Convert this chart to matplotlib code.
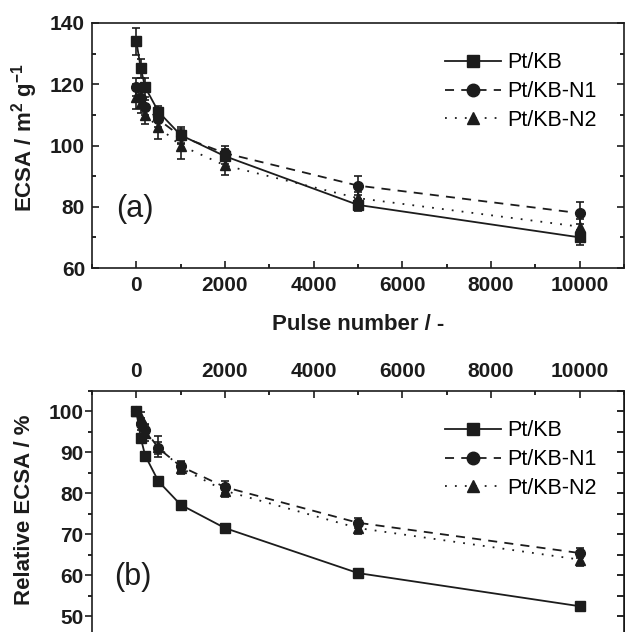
import matplotlib
matplotlib.use("Agg")
import matplotlib.pyplot as plt
from matplotlib.lines import Line2D
from matplotlib.ticker import MultipleLocator

# -----------------------------
# Data
# -----------------------------
pulses = [0, 100, 200, 500, 1000, 2000, 5000, 10000]
labels = ["Pt/KB", "Pt/KB-N1", "Pt/KB-N2"]

# (a) absolute ECSA, m2/g
ecsa_kb = [134, 125.2, 119.0, 111.0, 103.4, 96.5, 80.6, 70.0]
ecsa_n1 = [119.2, 115.5, 112.5, 108.5, 103.0, 97.5, 86.9, 77.9]
ecsa_n2 = [116.0, 114.0, 110.0, 106.0, 100.0, 93.5, 82.8, 73.5]
err_kb = [4.5, 3.0, 3.0, 2.0, 2.5, 2.5, 2.0, 2.5]
err_n1 = [3.0, 3.0, 2.5, 2.5, 2.5, 2.5, 3.0, 3.5]
err_n2 = [4.0, 3.5, 3.0, 4.0, 4.5, 3.0, 2.0, 2.5]

# (b) relative ECSA, %
rel_kb = [100, 93.5, 89.2, 82.9, 77.2, 71.5, 60.5, 52.4]
rel_n1 = [100, 97.0, 95.5, 91.0, 86.6, 81.5, 72.8, 65.4]
rel_n2 = [100, 98.3, 94.8, 91.4, 86.2, 80.6, 71.5, 63.8]
rerr_kb = [0.5, 0.8, 0.6, 1.0, 0.6, 0.8, 0.6, 0.5]
rerr_n1 = [0.5, 1.5, 1.5, 1.5, 1.2, 1.5, 1.2, 1.2]
rerr_n2 = [0.5, 1.5, 2.0, 2.5, 1.5, 1.5, 1.5, 1.5]

# -----------------------------
# Style
# -----------------------------
plt.rcParams["font.family"] = ["Liberation Sans", "DejaVu Sans"]
plt.rcParams["mathtext.default"] = "regular"

INK = "#1c1c1c"
styles = [
    dict(marker="s", linestyle="-"),
    dict(marker="o", linestyle=(0, (5, 4))),
    dict(marker="^", linestyle=(0, (1, 4.5))),
]

fig = plt.figure(figsize=(6.25, 6.32), dpi=100)

ax_a = fig.add_axes([92 / 625, 1 - 268 / 632, 532 / 625, 245 / 632])
ax_b = fig.add_axes([92 / 625, 1 - 636.5 / 632, 532 / 625, 245.5 / 632])


def draw(ax, ys, errs):
    for y, e, st in zip(ys, errs, styles):
        ax.errorbar(
            pulses, y, yerr=e,
            color=INK, lw=1.3, ms=7, capsize=3, elinewidth=1.2,
            capthick=1.2, **st,
        )
    handles = [
        Line2D([], [], color=INK, lw=1.3, ms=9, **st) for st in styles
    ]
    ax.legend(handles, labels, loc="upper left",
              bbox_to_anchor=(0.664, 0.88), frameon=False, fontsize=15.5,
              handlelength=2.6, handletextpad=0.3, labelspacing=0.36,
              borderpad=0, borderaxespad=0)


# -----------------------------
# Panel (a)
# -----------------------------
draw(ax_a, [ecsa_kb, ecsa_n1, ecsa_n2], [err_kb, err_n1, err_n2])
ax_a.set_xlim(-1000, 11000)
ax_a.set_ylim(60, 140)
ax_a.xaxis.set_major_locator(MultipleLocator(2000))
ax_a.xaxis.set_minor_locator(MultipleLocator(1000))
ax_a.yaxis.set_major_locator(MultipleLocator(20))
ax_a.yaxis.set_minor_locator(MultipleLocator(10))
ax_a.tick_params(axis="both", which="both", direction="in", top=False,
                 right=True, labelsize=15, width=1.2)
ax_a.tick_params(axis="x", pad=6)
ax_a.tick_params(axis="y", pad=5)
ax_a.tick_params(which="major", length=5)
ax_a.tick_params(which="minor", length=3)
for t in ax_a.get_xticklabels() + ax_a.get_yticklabels():
    t.set_fontweight("bold")
ax_a.text(0.081, 0.24, "(a)", transform=ax_a.transAxes, fontsize=22,
          ha="center", va="center", color=INK)

# -----------------------------
# Panel (b)
# -----------------------------
draw(ax_b, [rel_kb, rel_n1, rel_n2], [rerr_kb, rerr_n1, rerr_n2])
ax_b.set_xlim(-1000, 11000)
ax_b.set_ylim(45, 105)
ax_b.xaxis.set_major_locator(MultipleLocator(2000))
ax_b.xaxis.set_minor_locator(MultipleLocator(1000))
ax_b.yaxis.set_major_locator(MultipleLocator(10))
ax_b.yaxis.set_minor_locator(MultipleLocator(5))
ax_b.tick_params(axis="x", which="both", direction="in", top=True,
                 bottom=False, labeltop=True, labelbottom=False,
                 labelsize=15, pad=7, width=1.2)
ax_b.tick_params(axis="y", which="both", direction="out", left=True,
                 right=False, labelsize=15, pad=1, width=1.2)
ax_b.tick_params(which="major", length=5)
ax_b.tick_params(which="minor", length=3)
for t in ax_b.get_xticklabels() + ax_b.get_yticklabels():
    t.set_fontweight("bold")
# right side ticks point inward
ax_b_r = ax_b.secondary_yaxis("right")
ax_b_r.yaxis.set_major_locator(MultipleLocator(5))
ax_b_r.tick_params(direction="in", length=5, width=1.2, labelright=False)
ax_b.text(0.077, 0.242, "(b)", transform=ax_b.transAxes, fontsize=22,
          ha="center", va="center", color=INK)

for ax in (ax_a, ax_b):
    for sp in ax.spines.values():
        sp.set_linewidth(1.2)
        sp.set_color(INK)
    ax.tick_params(colors=INK)

# -----------------------------
# Labels
# -----------------------------
fig.text(25 / 625, 1 - 138 / 632, "ECSA / m$^{2}$ g$^{-1}$", rotation=90,
         ha="center", va="center", fontsize=16, fontweight="bold", color=INK)
fig.text(25 / 625, 1 - 510 / 632, "Relative ECSA / %", rotation=90,
         ha="center", va="center", fontsize=16, fontweight="bold", color=INK)
fig.text(358 / 625, 1 - 325 / 632, "Pulse number / -", ha="center",
         va="center", fontsize=16, fontweight="bold", color=INK)

fig.savefig("out.png", dpi=100)
